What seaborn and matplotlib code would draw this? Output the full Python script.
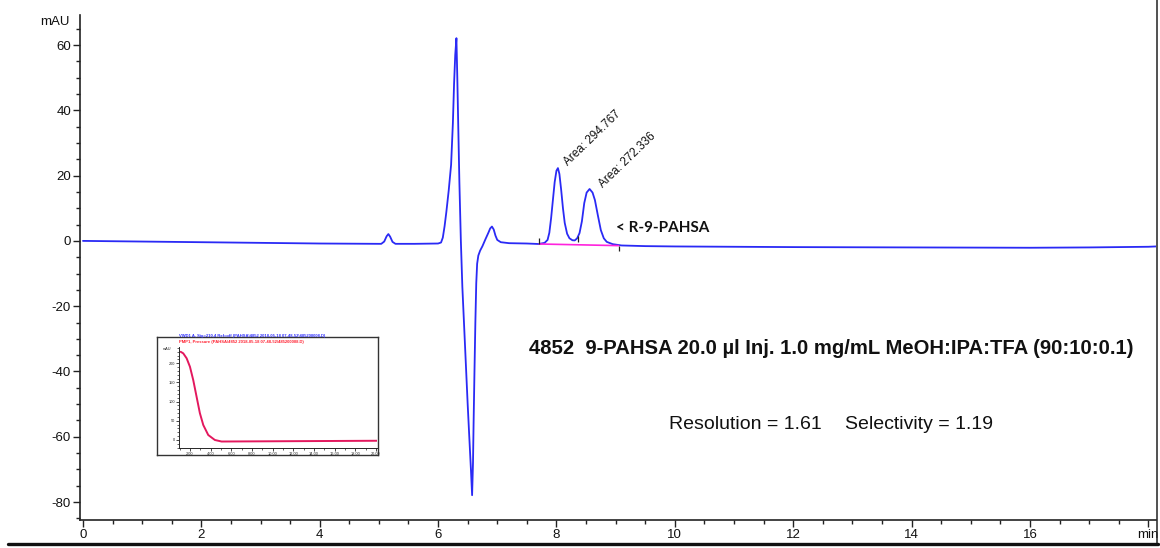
import matplotlib
matplotlib.use("Agg")
import matplotlib.pyplot as plt
from matplotlib.lines import Line2D
from matplotlib.ticker import MultipleLocator
import pandas as pd
import seaborn as sns

# Chromatogram trace (retention time in min, absorbance in mAU)
time_min = [0.0, 1.0, 2.0, 3.0, 4.0, 5.0, 5.04, 5.09, 5.13, 5.16, 5.19, 5.23, 5.28,
            5.6, 6.0, 6.05, 6.08, 6.11, 6.14, 6.18, 6.22, 6.25, 6.27, 6.29, 6.31,
            6.325, 6.34, 6.36, 6.385, 6.41, 6.44, 6.47, 6.50, 6.53, 6.555, 6.575,
            6.59, 6.60, 6.615, 6.63, 6.645, 6.66, 6.68, 6.71, 6.75, 6.80, 6.85,
            6.88, 6.91, 6.94, 6.97, 7.00, 7.06, 7.2, 7.5, 7.7, 7.8, 7.85, 7.88,
            7.91, 7.94, 7.97, 8.00, 8.025, 8.05, 8.08, 8.11, 8.14, 8.18, 8.22,
            8.27, 8.31, 8.35, 8.39, 8.43, 8.47, 8.51, 8.56, 8.61, 8.65, 8.70,
            8.75, 8.80, 8.85, 8.95, 9.10, 9.5, 10.0, 12.0, 14.0, 16.0, 17.0, 18.0,
            18.13]
signal_mau = [0.0, -0.2, -0.4, -0.6, -0.8, -0.9, -0.9, -0.2, 1.4, 2.1, 1.3, -0.3, -0.9,
              -0.9, -0.8, -0.5, 1.0, 4.5, 8.9, 15.5, 23.3, 36.0, 48.0, 57.0, 62.1,
              50.0, 36.0, 18.0, 0.0, -14.0, -26.0, -38.0, -50.0, -61.0, -70.0, -77.9,
              -68.0, -56.0, -40.0, -25.0, -13.0, -7.0, -4.5, -3.0, -1.6, 0.5, 2.5,
              3.8, 4.4, 3.5, 1.6, 0.3, -0.4, -0.7, -0.8, -0.95, -0.6, 0.3, 2.5,
              7.0, 12.5, 18.0, 21.5, 22.3, 20.5, 15.6, 10.0, 5.5, 2.2, 0.8,
              0.2, 0.15, 0.8, 2.4, 6.0, 11.6, 14.8, 15.9, 14.8, 12.5, 7.8,
              3.3, 0.8, -0.3, -1.0, -1.4, -1.6, -1.7, -1.9, -2.0, -2.1, -2.0, -1.8,
              -1.7]

# Integration of the two enantiomer peaks
integ_time = [7.71, 9.05]
integ_base = [-0.95, -1.45]
integ_marks = [7.71, 8.36, 9.05]
integ_mark_lo = [-1.0, -0.2, -3.0]
integ_mark_hi = [0.8, 1.5, -1.6]
area_values = [294.767, 272.336]
area_pos_t = [8.20, 8.79]
area_pos_y = [23.0, 16.3]

# Small pressure/gradient trace shown in the inset
inset_t = [1.10, 1.35, 1.68, 2.0, 2.32, 2.64, 2.96, 3.29, 3.77, 4.41, 5.06, 20.2]
inset_v = [230, 226, 213, 191, 156, 113, 70, 39, 13, 0, -4, -2]

x_ticks = [0, 2, 4, 6, 8, 10, 12, 14, 16, 18]
x_tick_labels = ["0", "2", "4", "6", "8", "10", "12", "14", "16", "min"]
y_ticks = [-80, -60, -40, -20, 0, 20, 40, 60]

sns.set_style("ticks")
plt.rcParams["font.family"] = ["Liberation Sans", "DejaVu Sans"]
plt.rcParams["axes.unicode_minus"] = False

W, H = 1160, 548
fig = plt.figure(figsize=(W / 100, H / 100), dpi=100)
fig.patch.set_facecolor("white")


def fx(px):
    return px / W


def fy(py):
    return 1 - py / H


ax = fig.add_axes([fx(80), fy(520), fx(1156) - fx(80), fy(15) - fy(520)])
trace = pd.DataFrame({"time": time_min, "mAU": signal_mau})
sns.lineplot(data=trace, x="time", y="mAU", sort=False, estimator=None,
             color="#2a2af5", linewidth=1.3, ax=ax)

ax.set_xlim(-0.05, 18.13)
ax.set_ylim(-85.5, 69.2)
ax.set_xticks(x_ticks)
ax.set_xticklabels(x_tick_labels)
ax.set_yticks(y_ticks)
ax.xaxis.set_minor_locator(MultipleLocator(0.5))
ax.yaxis.set_minor_locator(MultipleLocator(5))
ax.tick_params(axis="both", which="major", length=5, width=1.0, color="#222222",
               labelsize=9.5, labelcolor="#111111", pad=1.5)
ax.tick_params(axis="both", which="minor", length=3, width=1.0, color="#222222")
ax.set_xlabel("")
ax.set_ylabel("")
for side in ("top", "right"):
    ax.spines[side].set_visible(False)
for side in ("left", "bottom"):
    ax.spines[side].set_linewidth(1.2)
    ax.spines[side].set_color("#222222")
ax.grid(False)

# Integration baseline and peak start / valley / end marks
ax.plot(integ_time, integ_base, color="#ff22dd", linewidth=1.2, zorder=3)
ax.vlines(integ_marks, integ_mark_lo, integ_mark_hi, color="#222222", linewidth=0.9, zorder=4)

for t, yv, a in zip(area_pos_t, area_pos_y, area_values):
    ax.text(t, yv, f"Area: {a:.3f}", rotation=44, rotation_mode="anchor",
            ha="left", va="baseline", fontsize=8.5, color="#111111")

ax.text(9.01, 3.9, "< R-9-PAHSA", fontsize=11, fontweight="bold", ha="left",
        va="center", family=["Lato", "DejaVu Sans"], color="#111111")
ax.text(7.54, -33.1, "4852  9-PAHSA 20.0 \u00b5l Inj. 1.0 mg/mL MeOH:IPA:TFA (90:10:0.1)",
        fontsize=14.6, fontweight="bold", ha="left", va="center", color="#111111")
ax.text(9.91, -56.1, "Resolution = 1.61", fontsize=14, ha="left", va="center",
        color="#111111")
ax.text(12.88, -56.1, "Selectivity = 1.19", fontsize=14, ha="left", va="center",
        color="#111111")

fig.text(fx(70), fy(22), "mAU", ha="right", va="center", fontsize=9.5, color="#111111")

# Inset frame and its small trace
frame = fig.add_axes([fx(157), fy(455), fx(378) - fx(157), fy(337) - fy(455)])
frame.set_xticks([])
frame.set_yticks([])
frame.patch.set_alpha(0)
for sp in frame.spines.values():
    sp.set_linewidth(1.0)
    sp.set_color("#333333")

inset = fig.add_axes([fx(179), fy(448), fx(377) - fx(179), fy(347) - fy(448)])
inset.patch.set_alpha(0)
inset_df = pd.DataFrame({"t": inset_t, "v": inset_v})
sns.lineplot(data=inset_df, x="t", y="v", sort=False, estimator=None,
             color="#e3185e", linewidth=1.4, ax=inset)
inset.set_xlim(0.94, 20.1)
inset.set_ylim(-20.9, 242.5)
inset.set_xticks([2, 4, 6, 8, 10, 12, 14, 16, 18, 20])
inset.set_xticklabels([f"{v:.2f}" for v in [2, 4, 6, 8, 10, 12, 14, 16, 18, 20]])
inset.set_yticks([0, 50, 100, 150, 200])
inset.xaxis.set_minor_locator(MultipleLocator(1))
inset.yaxis.set_minor_locator(MultipleLocator(10))
inset.tick_params(axis="both", which="major", length=2, width=0.6, labelsize=2.8, pad=0.8)
inset.tick_params(axis="both", which="minor", length=1.2, width=0.5)
inset.set_xlabel("")
inset.set_ylabel("")
for side in ("top", "right"):
    inset.spines[side].set_visible(False)
for side in ("left", "bottom"):
    inset.spines[side].set_linewidth(0.7)
fig.text(fx(163), fy(349), "mAU", fontsize=2.8, ha="left", va="center")
fig.text(fx(179), fy(336), "VWD1 A, Sig=210,4 Ref=off (PAHSA\\4852 2018-05-18 07-48-52\\485200008.D)",
         fontsize=3.0, fontweight="bold", color="#3030ff", ha="left", va="center")
fig.text(fx(179), fy(342), "PMP1, Pressure (PAHSA\\4852 2018-05-18 07-48-52\\485200008.D)",
         fontsize=3.0, fontweight="bold", color="#ff2030", ha="left", va="center")

# Page border lines
fig.add_artist(Line2D([fx(1157), fx(1157)], [fy(0), fy(545)], color="#222222", linewidth=1.1))
fig.add_artist(Line2D([fx(8), fx(1158)], [fy(544), fy(544)], color="#111111", linewidth=2.4))

fig.savefig("out.png", dpi=100, facecolor="white")
